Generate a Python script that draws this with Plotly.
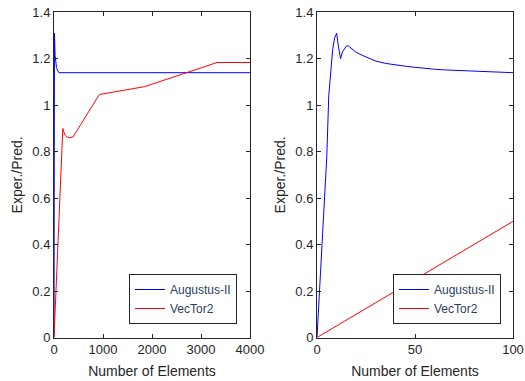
import plotly.graph_objects as go

# ---- data ----
aug_x = [0, 1, 2, 3, 4, 5, 6, 7, 8, 9, 10, 11, 12, 13, 14, 15, 16, 18, 20, 23, 26, 30,
         35, 40, 45, 50, 55, 60, 65, 70, 80, 90, 100, 4000]
aug_y = [0, 0.15, 0.3, 0.45, 0.6, 0.78, 1.04, 1.15, 1.24, 1.29, 1.31, 1.25, 1.2, 1.23,
         1.245, 1.255, 1.255, 1.24, 1.228, 1.215, 1.205, 1.19, 1.18, 1.173, 1.168,
         1.163, 1.158, 1.155, 1.152, 1.15, 1.146, 1.142, 1.14, 1.14]
vec_x = [0, 100, 180, 200, 230, 270, 320, 390, 925, 1850, 3330, 4000]
vec_y = [0, 0.5, 0.9, 0.885, 0.87, 0.862, 0.86, 0.864, 1.046, 1.08, 1.184, 1.184]

names = ["Augustus-II", "VecTor2"]
colors = ["rgb(0,0,255)", "rgb(255,0,0)"]

left_xticks = [0, 1000, 2000, 3000, 4000]
right_xticks = [0, 50, 100]
yticks = [0, 0.2, 0.4, 0.6, 0.8, 1, 1.2, 1.4]
ytick_text = ["0", "0.2", "0.4", "0.6", "0.8", "1", "1.2", "1.4"]

FONT = "Liberation Sans, Arial, sans-serif"
AX = "#262626"

fig = go.Figure()
for xa, ya, leg in [("x", "y", "legend"), ("x2", "y2", "legend2")]:
    fig.add_trace(go.Scatter(x=aug_x, y=aug_y, mode="lines", name=names[0],
                             line=dict(color=colors[0], width=1),
                             xaxis=xa, yaxis=ya, legend=leg))
    fig.add_trace(go.Scatter(x=vec_x, y=vec_y, mode="lines", name=names[1],
                             line=dict(color=colors[1], width=1),
                             xaxis=xa, yaxis=ya, legend=leg))

W, H = 525, 381
ydom = [(H - 337.5) / H, (H - 12.3) / H]

def xaxis(dom, rng, tv, anchor):
    return dict(domain=dom, range=rng, tickvals=tv, ticktext=[str(t) for t in tv],
                showline=True, mirror="ticks", linecolor=AX, linewidth=1,
                ticks="inside", ticklen=4, tickcolor=AX, showgrid=False, zeroline=False,
                tickfont=dict(family=FONT, size=13, color=AX),
                title=dict(text="Number of Elements",
                           font=dict(family=FONT, size=14, color=AX), standoff=10),
                anchor=anchor, automargin=False)

def yaxis(anchor):
    return dict(domain=ydom, range=[0, 1.4], tickvals=yticks, ticktext=ytick_text,
                showline=True, mirror="ticks", linecolor=AX, linewidth=1,
                ticks="inside", ticklen=4, tickcolor=AX, showgrid=False, zeroline=False,
                tickfont=dict(family=FONT, size=13, color=AX),
                title=dict(text="Exper./Pred.",
                           font=dict(family=FONT, size=14, color=AX), standoff=6),
                anchor=anchor, automargin=False)

legstyle = dict(bgcolor="white", bordercolor=AX, borderwidth=1,
                font=dict(family=FONT, size=12),
                xanchor="right", yanchor="bottom", y=(H - 324) / H)

fig.update_layout(
    width=W, height=H,
    margin=dict(l=0, r=0, t=0, b=0),
    paper_bgcolor="white", plot_bgcolor="white",
    xaxis=xaxis([54 / W, 250 / W], [0, 4000], left_xticks, "y"),
    yaxis=yaxis("x"),
    xaxis2=xaxis([317 / W, 513 / W], [0, 100], right_xticks, "y2"),
    yaxis2=yaxis("x2"),
    legend=dict(x=237 / W, **legstyle),
    legend2=dict(x=501 / W, **legstyle),
)

fig.write_html("out.html")
